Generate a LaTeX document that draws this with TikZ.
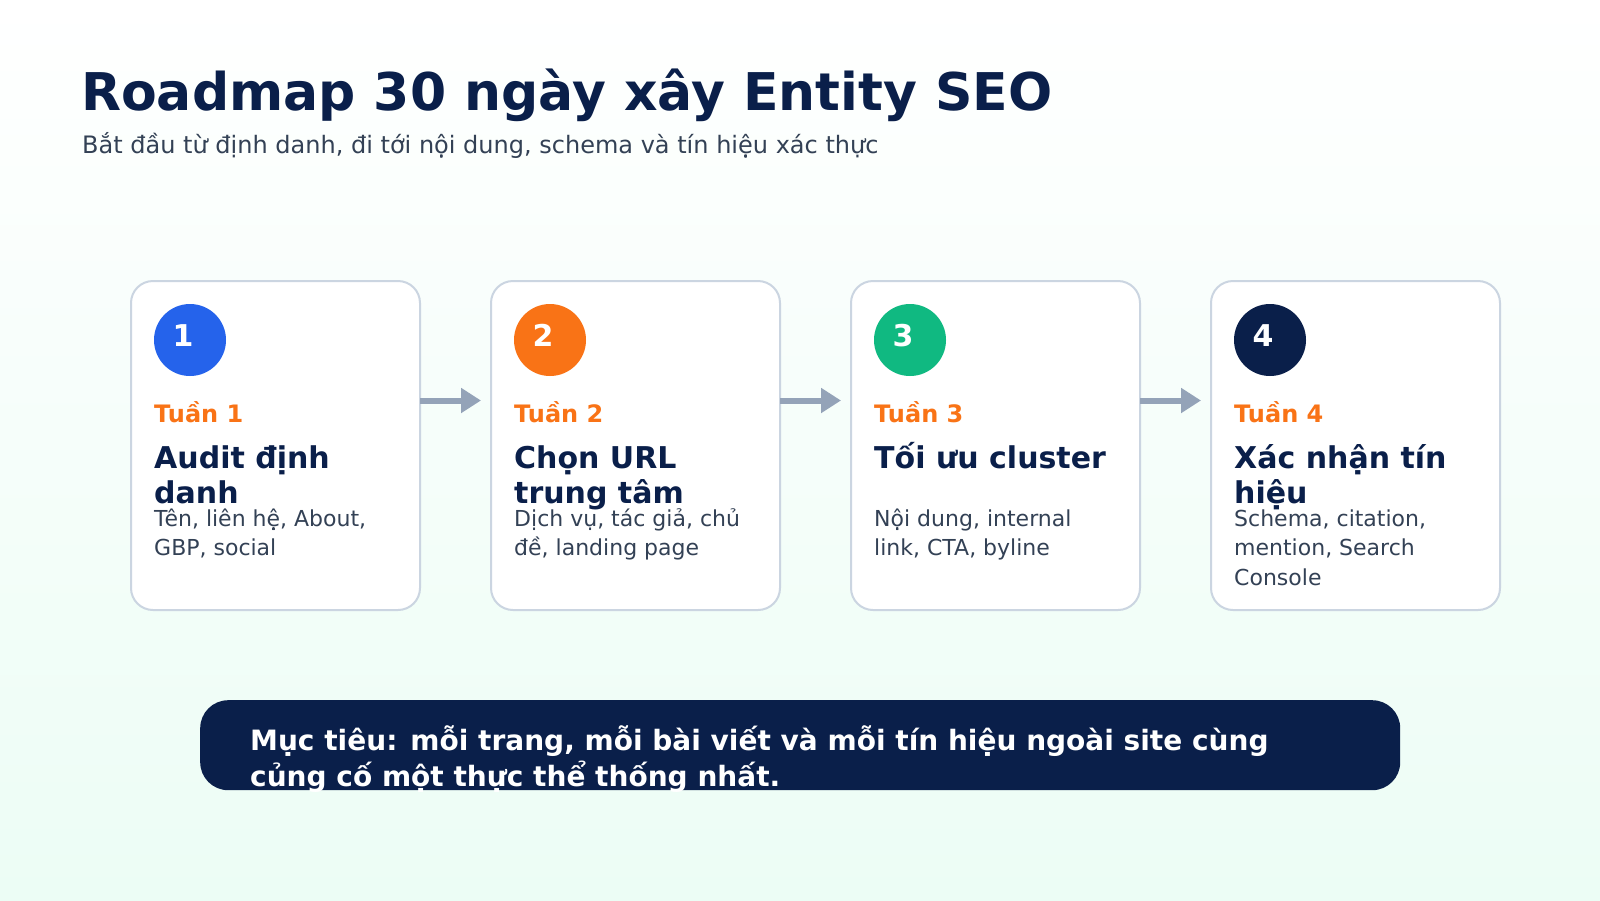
\documentclass[tikz,border=0pt]{standalone}
\usepackage{fontspec}
\setmainfont{DejaVu Sans}
\usepackage{xcolor}
\usepackage{tikz}
\usetikzlibrary{arrows.meta, positioning}
\definecolor{navyColor}{HTML}{0A1F4A}
\definecolor{slateColor}{HTML}{334155}
\definecolor{weekColor}{HTML}{F97316}
\definecolor{blueColor}{HTML}{2563EB}
\definecolor{greenColor}{HTML}{10B981}
\definecolor{borderColor}{HTML}{CBD5E1}
\definecolor{arrowColor}{HTML}{94A3B8}
\definecolor{mintColor}{HTML}{ECFDF5}

\begin{document}
\begin{tikzpicture}[
    x=1pt, y=-1pt,
    card/.style={rectangle, rounded corners=22pt, draw=borderColor, line width=2pt, fill=white, minimum width=289pt, minimum height=329pt, inner sep=0pt, outer sep=0pt, anchor=north west},
    dot/.style={circle, minimum size=72pt, inner sep=0pt, fill=#1},
    num/.style={anchor=base, inner sep=0pt, text=white, font=\fontsize{30}{30}\selectfont\bfseries},
    week/.style={anchor=base west, inner sep=0pt, text=weekColor, font=\fontsize{24}{28}\selectfont\bfseries},
    cardtitle/.style={anchor=base west, inner sep=0pt, align=left, text=navyColor, font=\fontsize{30}{35}\selectfont\bfseries},
    desc/.style={anchor=base west, inner sep=0pt, align=left, text=slateColor, font=\fontsize{22}{29.5}\selectfont},
    flow/.style={-{Triangle[length=20pt, width=24pt]}, line width=6pt, draw=arrowColor}
]
    % Background
    \shade[top color=white, bottom color=mintColor] (0,0) rectangle (1600,900);
    \useasboundingbox (0,0) rectangle (1600,900);

    % Heading
    \node[anchor=base west, inner sep=0pt, text=navyColor, font=\fontsize{52}{62}\selectfont\bfseries] (title) at (81,110) {Roadmap 30 ngày xây Entity SEO};
    \node[anchor=base west, inner sep=0pt, text=slateColor, font=\fontsize{24}{28}\selectfont] (sub) at (82,153) {Bắt đầu từ định danh, đi tới nội dung, schema và tín hiệu xác thực};

    % Week cards
    \node[card] (c1) at (131,281) {};
    \node[card, right=71pt of c1] (c2) {};
    \node[card, right=71pt of c2] (c3) {};
    \node[card, right=71pt of c3] (c4) {};

    % Week 1 (multi-line texts sit on their last baseline)
    \node[dot=blueColor] (d1) at ([xshift=59pt, yshift=-59pt]c1.north west) {};
    \node[num] (n1) at ([xshift=52pt, yshift=-65pt]c1.north west) {1};
    \node[week] (w1) at ([xshift=23pt, yshift=-141pt]c1.north west) {Tuần 1};
    \node[cardtitle] (t1) at ([xshift=23pt, yshift=-222pt]c1.north west) {Audit định\\danh};
    \node[desc] (e1) at ([xshift=23pt, yshift=-274.5pt]c1.north west) {Tên, liên hệ, About,\\GBP, social};

    % Week 2
    \node[dot=weekColor] (d2) at ([xshift=59pt, yshift=-59pt]c2.north west) {};
    \node[num] (n2) at ([xshift=52pt, yshift=-65pt]c2.north west) {2};
    \node[week] (w2) at ([xshift=23pt, yshift=-141pt]c2.north west) {Tuần 2};
    \node[cardtitle] (t2) at ([xshift=23pt, yshift=-222pt]c2.north west) {Chọn URL\\trung tâm};
    \node[desc] (e2) at ([xshift=23pt, yshift=-274.5pt]c2.north west) {Dịch vụ, tác giả, chủ\\đề, landing page};

    % Week 3
    \node[dot=greenColor] (d3) at ([xshift=59pt, yshift=-59pt]c3.north west) {};
    \node[num] (n3) at ([xshift=52pt, yshift=-65pt]c3.north west) {3};
    \node[week] (w3) at ([xshift=23pt, yshift=-141pt]c3.north west) {Tuần 3};
    \node[cardtitle] (t3) at ([xshift=23pt, yshift=-187pt]c3.north west) {Tối ưu cluster};
    \node[desc] (e3) at ([xshift=23pt, yshift=-274.5pt]c3.north west) {Nội dung, internal\\link, CTA, byline};

    % Week 4
    \node[dot=navyColor] (d4) at ([xshift=59pt, yshift=-59pt]c4.north west) {};
    \node[num] (n4) at ([xshift=52pt, yshift=-65pt]c4.north west) {4};
    \node[week] (w4) at ([xshift=23pt, yshift=-141pt]c4.north west) {Tuần 4};
    \node[cardtitle] (t4) at ([xshift=23pt, yshift=-222pt]c4.north west) {Xác nhận tín\\hiệu};
    \node[desc] (e4) at ([xshift=23pt, yshift=-304pt]c4.north west) {Schema, citation,\\mention, Search\\Console};

    % Arrows
    \draw[flow] ([yshift=45pt]c1.east) -- ([xshift=-10pt, yshift=45pt]c2.west);
    \draw[flow] ([yshift=45pt]c2.east) -- ([xshift=-10pt, yshift=45pt]c3.west);
    \draw[flow] ([yshift=45pt]c3.east) -- ([xshift=-10pt, yshift=45pt]c4.west);

    % Goal banner
    \node[rectangle, rounded corners=28pt, fill=navyColor, minimum width=1200pt, minimum height=90pt, inner sep=0pt, anchor=north west] (goal) at (200,700) {};
    \node[anchor=base west, inner sep=0pt, align=left, text=white, font=\fontsize{28}{36}\selectfont\bfseries] (goaltext) at ([xshift=50pt, yshift=-86pt]goal.north west) {Mục tiêu: mỗi trang, mỗi bài viết và mỗi tín hiệu ngoài site cùng\\củng cố một thực thể thống nhất.};

\end{tikzpicture}
\end{document}
